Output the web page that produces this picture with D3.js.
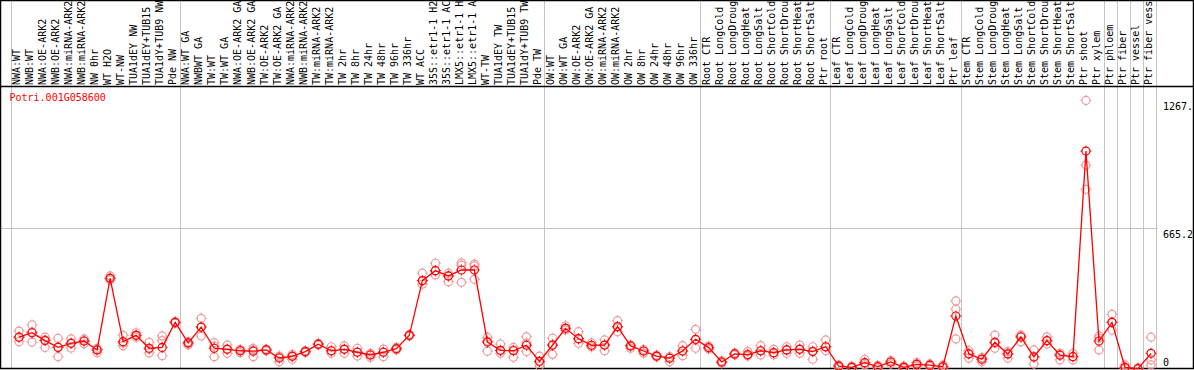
<!DOCTYPE html>
<html>
<head>
<meta charset="utf-8">
<script src="https://cdn.jsdelivr.net/npm/d3@7"></script>
<style>
  body { margin: 0; background: #fff; }
  text { font-family: "DejaVu Sans Mono", "Liberation Mono", monospace; font-size: 10px; }
</style>
</head>
<body>
<div id="chart"></div>
<script>
const geneId = 'Potri.001G058600';

const sampleLabels = [
  'NWA:WT', 'NWB:WT', 'NWA:OE-ARK2', 'NWB:OE-ARK2', 'NWA:miRNA-ARK2', 'NWB:miRNA-ARK2',
  'NW 0hr', 'WT H2O', 'WT-NW', 'TUA1dEY NW', 'TUA1dEY+TUB15 NW', 'TUA1dY+TUB9 NW', 'Pde NW',
  'NWA:WT GA', 'NWBWT GA', 'TW:WT', 'TW:WT GA', 'NWA:OE-ARK2 GA', 'NWB:OE-ARK2 GA',
  'TW:OE-ARK2', 'TW:OE-ARK2 GA', 'NWA:miRNA-ARK2', 'NWB:miRNA-ARK2', 'TW:miRNA-ARK2',
  'TW:miRNA-ARK2', 'TW 2hr', 'TW 8hr', 'TW 24hr', 'TW 48hr', 'TW 96hr', 'TW 336hr', 'WT ACC',
  '35S::etr1-1 H2O', '35S::etr1-1 ACC', 'LMX5::etr1-1 H2O', 'LMX5::etr1-1 ACC', 'WT-TW',
  'TUA1dEY TW', 'TUA1dEY+TUB15 TW', 'TUA1dY+TUB9 TW', 'Pde TW',
  'OW:WT', 'OW:WT GA', 'OW:OE-ARK2', 'OW:OE-ARK2 GA', 'OW:miRNA-ARK2', 'OW:miRNA-ARK2',
  'OW 2hr', 'OW 8hr', 'OW 24hr', 'OW 48hr', 'OW 96hr', 'OW 336hr',
  'Root CTR', 'Root LongCold', 'Root LongDrought', 'Root LongHeat', 'Root LongSalt',
  'Root ShortCold', 'Root ShortDrought', 'Root ShortHeat', 'Root ShortSalt', 'Ptr root',
  'Leaf CTR', 'Leaf LongCold', 'Leaf LongDrought', 'Leaf LongHeat', 'Leaf LongSalt',
  'Leaf ShortCold', 'Leaf ShortDrought', 'Leaf ShortHeat', 'Leaf ShortSalt', 'Ptr leaf',
  'Stem CTR', 'Stem LongCold', 'Stem LongDrought', 'Stem LongHeat', 'Stem LongSalt',
  'Stem ShortCold', 'Stem ShortDrought', 'Stem ShortHeat', 'Stem ShortSalt', 'Ptr shoot',
  'Ptr xylem', 'Ptr phloem', 'Ptr fiber', 'Ptr vessel', 'Ptr fiber vessel'
];

// sample index where a new group starts (grey separators)
const groupBreaks = [0, 13, 41, 53, 63, 73, 84, 85, 86, 87, 88];

const meanValues = [
  150, 171, 134, 102, 121, 132, 90, 428, 129, 159, 98, 102, 220,
  123, 198, 98, 93, 86, 84, 90, 52, 60, 82, 117, 86, 93, 79, 66, 79, 96, 159, 417,
  464, 439, 467, 467, 127, 88, 86, 112, 36,
  112, 192, 143, 112, 113, 200, 109, 85, 61, 51, 85, 140,
  101, 33, 71, 68, 86, 77, 90, 93, 82, 105,
  14, 8, 30, 11, 33, 8, 22, 18, 11, 250,
  71, 46, 126, 71, 151, 57, 134, 65, 58, 1028,
  132, 220, 8, 1.5, 74
];

const replicateValues = [
  [179, 129, 151], [208, 127, 174], [150, 102, 137], [145, 58, 104], [142, 99, 122],
  [142, 119, 132], [98, 77, 90], [439, 420, 429], [159, 110, 122], [171, 150, 160],
  [126, 76, 94], [156, 134, 63], [223, 216, 222],
  [129, 113, 122], [239, 156, 198], [124, 58, 108], [113, 74, 94], [93, 77, 87],
  [98, 58, 90], [90, 85, 94], [61, 34, 57], [69, 46, 61], [87, 78, 80], [120, 113, 118],
  [105, 74, 85], [109, 74, 94], [98, 61, 80], [74, 55, 66], [94, 58, 80], [102, 90, 94],
  [163, 156, 160], [452, 400, 415], [499, 444, 462], [452, 412, 438], [501, 490, 409],
  [495, 423, 486], [150, 84, 132], [118, 74, 85], [102, 55, 90], [152, 82, 123], [61, 14, 33],
  [145, 69, 116], [204, 184, 193], [176, 121, 142], [123, 104, 111], [137, 86, 113],
  [228, 176, 198], [98, 113, 108], [74, 92, 85], [57, 66, 61], [34, 59, 52], [110, 63, 85],
  [187, 98, 137],
  [109, 94, 99], [38, 28, 33], [76, 66, 71], [82, 61, 66], [110, 66, 85], [93, 66, 76],
  [105, 74, 90], [113, 74, 94], [105, 46, 85], [137, 86, 104],
  [19, 9, 14], [14, 5, 9], [46, 19, 28], [17, 5, 9], [40, 24, 33], [14, 2, 9], [31, 14, 24],
  [24, 12, 19], [19, 5, 9], [321, 282, 142],
  [86, 51, 73], [34, 54, 47], [160, 98, 123], [82, 51, 71], [160, 129, 156], [90, 24, 57],
  [152, 118, 132], [74, 43, 66], [74, 43, 59], [1267.05, 962, 848],
  [156, 90, 146], [258, 184, 222], [19, 0, 5], [5, 0, 0], [150, 43, 19]
];

const yMax = d3.max(replicateValues.flat());
const yTickValues = [yMax, yMax * 1.05 / 2, 0];
const yTickLabels = ['1267.', '665.2', '0'];

const width = 1194, height = 370;
const headerBottom = 86.5, plotBottom = 368.5;
const maxLabelChars = 14; // header only has room for this many

const svg = d3.select('#chart').append('svg')
    .attr('width', width)
    .attr('height', height);

const x = d3.scaleLinear()
    .domain([0, sampleLabels.length])
    .range([10.7, 1155.7]);

const y = d3.scaleLinear()
    .domain([0, yMax * 1.05])
    .range([369, 87]);

// group separators
svg.append('g')
    .selectAll('line')
    .data(groupBreaks)
    .join('line')
    .attr('x1', d => Math.round(x(d)) + 0.5)
    .attr('x2', d => Math.round(x(d)) + 0.5)
    .attr('y1', 0)
    .attr('y2', plotBottom)
    .attr('stroke', '#c4c4c4')
    .attr('stroke-width', 1);

// half-range grid line
svg.append('line')
    .attr('x1', 0)
    .attr('x2', 1158)
    .attr('y1', Math.round(y(yTickValues[1])) + 0.5)
    .attr('y2', Math.round(y(yTickValues[1])) + 0.5)
    .attr('stroke', '#c4c4c4');

// sample labels, rotated
svg.append('g')
    .selectAll('text')
    .data(sampleLabels)
    .join('text')
    .attr('transform', (d, i) => 'translate(' + (x(i) + 9.6) + ',85) rotate(-90)')
    .attr('fill', '#000')
    .text(d => d.slice(0, maxLabelChars));

// frame
svg.append('rect')
    .attr('x', 0.5)
    .attr('y', 0.5)
    .attr('width', width - 1)
    .attr('height', plotBottom - 0.5)
    .attr('fill', 'none')
    .attr('stroke', '#000')
    .attr('stroke-width', 1.5);

svg.append('line')
    .attr('x1', 0)
    .attr('x2', width)
    .attr('y1', headerBottom)
    .attr('y2', headerBottom)
    .attr('stroke', '#000')
    .attr('stroke-width', 1.5);

// gene id
svg.append('text')
    .attr('x', 9.5)
    .attr('y', 101)
    .attr('fill', '#ff0000')
    .text(geneId);

// y labels on the right
svg.append('g')
    .selectAll('text')
    .data(yTickValues)
    .join('text')
    .attr('x', 1163)
    .attr('y', (d, i) => i === 2 ? 366 : y(d) + 10)
    .attr('fill', '#000')
    .text((d, i) => yTickLabels[i]);

function marker(g, cx, cy, colour) {
  g.append('path')
      .attr('d', 'M' + cx + ',' + (cy - 5.5) + 'v1.5M' + cx + ',' + (cy + 4) + 'v1.5'
          + 'M' + (cx - 5.5) + ',' + cy + 'h1.5M' + (cx + 4) + ',' + cy + 'h1.5')
      .attr('stroke', colour)
      .attr('stroke-width', 1);
  g.append('circle')
      .attr('cx', cx)
      .attr('cy', cy)
      .attr('r', 4)
      .attr('fill', 'none')
      .attr('stroke', colour)
      .attr('stroke-width', 1.2);
}

const px = i => x(i + 0.64);

// replicates
const reps = svg.append('g');
replicateValues.forEach((vals, i) => {
  vals.forEach(v => marker(reps, px(i), y(v), '#f09a9a'));
});

// mean line
const line = d3.line()
    .x((d, i) => px(i))
    .y(d => y(d));

svg.append('path')
    .datum(meanValues)
    .attr('fill', 'none')
    .attr('stroke', '#ff0000')
    .attr('stroke-width', 1.3)
    .attr('d', line);

const means = svg.append('g');
meanValues.forEach((v, i) => marker(means, px(i), y(v), '#ff0000'));
</script>
</body>
</html>
